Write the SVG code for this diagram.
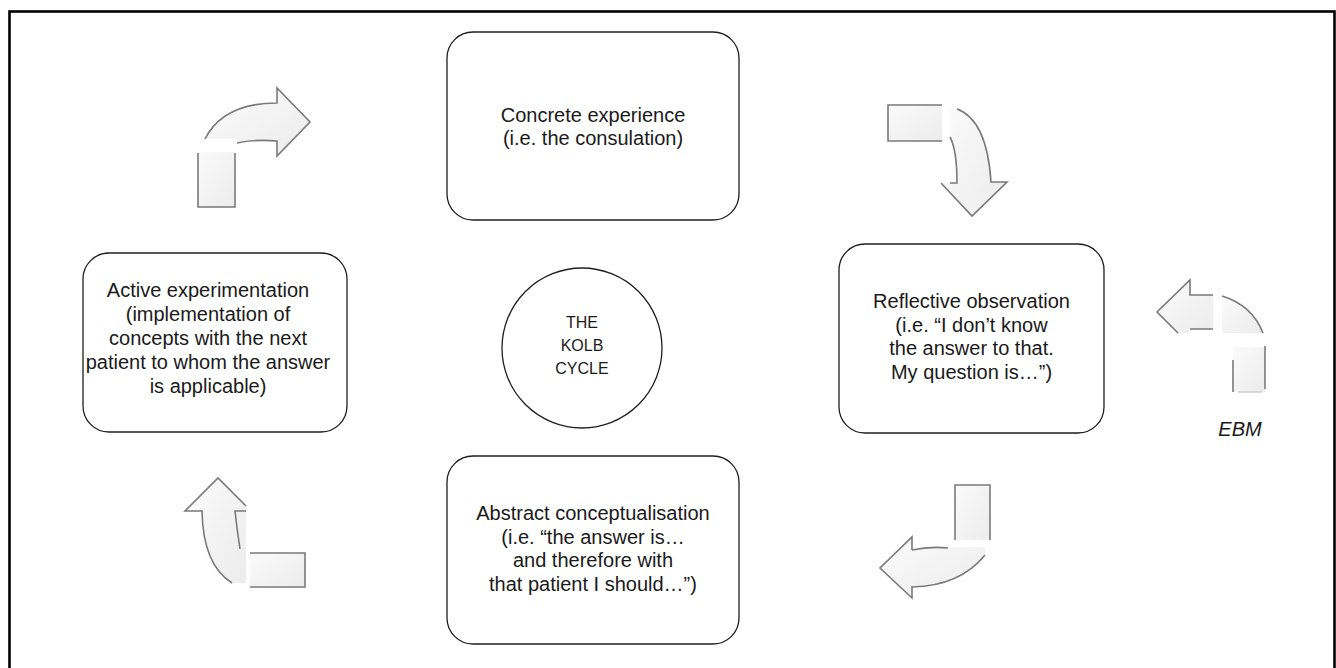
<svg xmlns="http://www.w3.org/2000/svg" width="1336" height="668" viewBox="0 0 1336 668">
<style>
.box{fill:#fff;stroke:#1e1e1e;stroke-width:1.3}
.t{font-family:"Liberation Sans",Arial,sans-serif;font-size:20px;fill:#1a1a1a;text-anchor:middle}
.ct{font-family:"Liberation Sans",Arial,sans-serif;font-size:16px;fill:#1a1a1a;text-anchor:middle}
.af{fill:url(#g);stroke:none}
.as{fill:none;stroke:#7a7a7a;stroke-width:1.6;stroke-linejoin:miter}
</style>
<defs>
<linearGradient id="g" x1="0" y1="0" x2="1" y2="1">
<stop offset="0" stop-color="#fbfbfb"/>
<stop offset="1" stop-color="#ececec"/>
</linearGradient>
</defs>
<rect x="0" y="0" width="1336" height="668" fill="#fff"/>
<rect x="9.5" y="11.5" width="1325" height="670" fill="none" stroke="#000" stroke-width="2.6"/>

<g id="connectors">
<g id="arrow-top-left">
<path class="af" d="M205,139 Q223,103 277,103 L277,88 L310,122 L277,156 L277,141 Q255,139 237,143 L237,139 Z"/>
<path class="as" d="M205,139 Q223,103 277,103 L277,88 L310,122 L277,156 L277,141 Q255,139 237,143"/>
<path class="af" d="M198,152 H235 V207 H198 Z"/>
<path class="as" d="M198,153 V207 H235 V153"/>
</g>
<g id="arrow-top-right">
<path class="af" d="M950,108 Q987,116 991,182 L1007,182 L972,216 L941,183 L957,183 Q957,148 950,137 Z"/>
<path class="as" d="M957,109 Q987,120 991,182 L1007,182 L972,216 L941,183 M950,183 L957,183 Q957,150 950,137"/>
<path class="af" d="M888,105 H942 V141 H888 Z"/>
<path class="as" d="M942,105 H888 V141 H942"/>
</g>
<g id="arrow-right">
<path class="af" d="M1213,295 L1190,295 L1190,280 L1157,312 L1178,333 L1190,333 L1190,329 L1213,329 Z"/>
<path class="as" d="M1213,295 L1190,295 L1190,280 L1157,312 L1178,333 M1190,329 L1213,329"/>
<path class="af" d="M1222,296 Q1252,305 1263,333 L1222,333 Z"/>
<path class="as" d="M1222,296 Q1252,305 1263,333"/>
<path class="af" d="M1233,347 H1265 V392 H1233 Z"/>
<path class="as" d="M1233,360 V392"/>
<path class="as" d="M1265,346 V389"/>
<path d="M1238,392 H1262" stroke="#cfcfcf" stroke-width="1.5" fill="none"/>
</g>
<g id="arrow-bottom-right">
<path class="af" d="M912,537 L880,568 L912,598 L912,587 Q960,586 985,555 L985,547 L948,547 Q925,547 912,550 Z"/>
<path class="as" d="M912,550 L912,537 L880,568 L912,598 L912,587 Q960,586 985,555 M912,550 Q930,546 948,548"/>
<path class="af" d="M955,485 H990 V540 H955 Z"/>
<path class="as" d="M955,540 V485 H990 V540"/>
</g>
<g id="arrow-bottom-left">
<path class="af" d="M218,478 L185,511 L202,511 Q203,565 232,583 L246,583 L246,506 Z"/>
<path class="as" d="M246,506 L218,478 L185,511 L202,511 Q203,565 232,583 M246,511 L235,511 Q237,530 240,549"/>
<path class="af" d="M250,553 H305 V587 H250 Z"/>
<path class="as" d="M250,553 H305 V587 H250"/>
</g>
</g>

<g id="node-concrete">
<rect class="box" x="447" y="32" width="292" height="188" rx="26"/>
<text class="t" x="593" y="122">Concrete experience</text>
<text class="t" x="593" y="145">(i.e. the consulation)</text>
</g>
<g id="node-reflective">
<rect class="box" x="839" y="244" width="265" height="189" rx="26"/>
<text class="t" x="971.5" y="308">Reflective observation</text>
<text class="t" x="971.5" y="331.5">(i.e. “I don’t know</text>
<text class="t" x="971.5" y="355">the answer to that.</text>
<text class="t" x="971.5" y="378.5">My question is…”)</text>
</g>
<g id="node-abstract">
<rect class="box" x="447" y="456" width="292" height="188" rx="26"/>
<text class="t" x="593" y="520">Abstract conceptualisation</text>
<text class="t" x="593" y="543.5">(i.e. “the answer is…</text>
<text class="t" x="593" y="567">and therefore with</text>
<text class="t" x="593" y="590.5">that patient I should…”)</text>
</g>
<g id="node-active">
<rect class="box" x="83" y="253" width="264" height="179" rx="26"/>
<text class="t" x="208" y="297">Active experimentation</text>
<text class="t" x="208" y="321">(implementation of</text>
<text class="t" x="208" y="345">concepts with the next</text>
<text class="t" x="208" y="369">patient to whom the answer</text>
<text class="t" x="208" y="393">is applicable)</text>
</g>
<g id="node-kolb">
<circle class="box" cx="582" cy="348" r="80"/>
<text class="ct" x="582" y="328">THE</text>
<text class="ct" x="582" y="351">KOLB</text>
<text class="ct" x="582" y="374">CYCLE</text>
</g>
<g id="label-ebm">
<text class="t" x="1240" y="436" font-style="italic">EBM</text>
</g>
</svg>
